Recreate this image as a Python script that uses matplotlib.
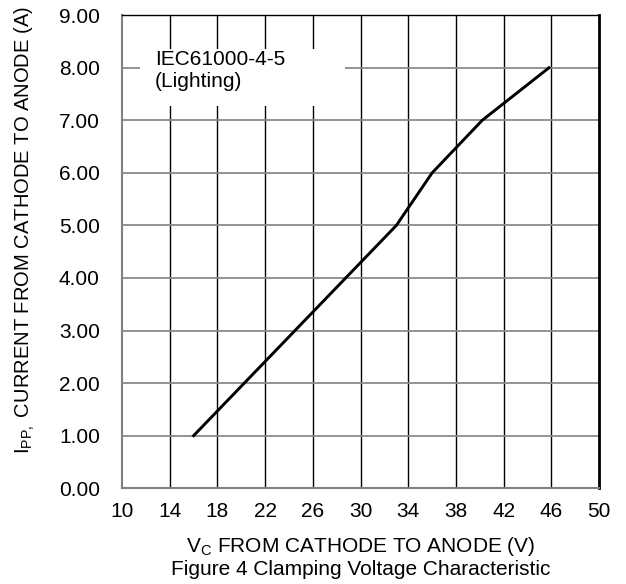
import matplotlib
matplotlib.use('Agg')
import matplotlib.pyplot as plt
from matplotlib.patches import Rectangle

plt.rcParams['font.family'] = ['Liberation Sans', 'DejaVu Sans']
plt.rcParams['mathtext.fontset'] = 'custom'
plt.rcParams['mathtext.rm'] = 'Liberation Sans'
plt.rcParams['mathtext.it'] = 'Liberation Sans'

# clamping voltage curve
vc = [16, 33, 36, 40.2, 45.8]
ipp = [1.0, 5.0, 6.0, 7.0, 8.0]

x_ticks = [10, 14, 18, 22, 26, 30, 34, 38, 42, 46, 50]
y_ticks = [0, 1, 2, 3, 4, 5, 6, 7, 8, 9]

fig = plt.figure(figsize=(6.26, 5.84), dpi=100)
ax = fig.add_axes([0.195, 0.164, 0.762, 0.81])

ax.set_xlim(10, 50)
ax.set_ylim(0, 9)
ax.set_xticks(x_ticks)
ax.set_yticks(y_ticks)
ax.set_yticklabels(['%.2f' % v for v in y_ticks])
ax.tick_params(length=0, labelsize=15)
ax.tick_params(axis='y', pad=16)
ax.tick_params(axis='x', pad=10)

# grid: vertical black, horizontal gray
for xv in x_ticks[1:-1]:
    ax.axvline(xv, color='black', lw=1.0, zorder=1)
for yv in y_ticks[1:-1]:
    ax.axhline(yv, color='#8a8a8a', lw=1.3, zorder=1)

for s in ['left', 'bottom']:
    ax.spines[s].set_color('#808080')
    ax.spines[s].set_linewidth(1.5)
ax.spines['top'].set_color('black')
ax.spines['top'].set_linewidth(1.0)
ax.spines['right'].set_color('black')
ax.spines['right'].set_linewidth(2.0)

ax.plot(vc, ipp, color='black', lw=2.1, zorder=3)

# white box behind the note
ax.add_patch(Rectangle((11.5, 7.28), 17.2, 1.08, facecolor='white',
                       edgecolor='none', zorder=2))
ax.text(12.75, 8.34, 'IEC61000-4-5\n(Lighting)', fontsize=15, va='top',
        ha='left', linespacing=1.2, zorder=4)

ax.set_xlabel(r'V$_{\mathrm{C}}$ FROM CATHODE TO ANODE (V)', fontsize=15)
ax.xaxis.set_label_coords(0.5, -0.123)
ax.xaxis.label.set_va('center')
ax.set_ylabel(r'I$_{\mathrm{PP,}}$ CURRENT FROM CATHODE TO ANODE (A)', fontsize=14.5)
ax.yaxis.set_label_coords(-0.204, 0.546)
ax.yaxis.label.set_va('center')
fig.text(0.576, 0.025, 'Figure 4 Clamping Voltage Characteristic', fontsize=15,
         ha='center', va='center')

fig.savefig('out.png', dpi=100)
